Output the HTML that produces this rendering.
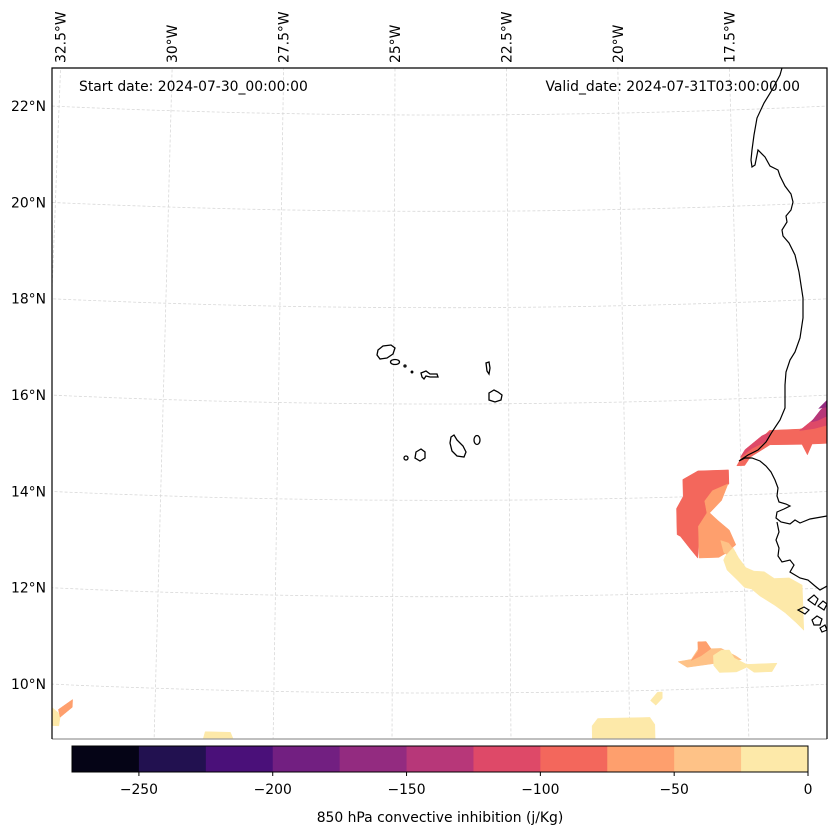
<!DOCTYPE html>
<html><head><meta charset="utf-8"><style>
html,body{margin:0;padding:0;background:#fff;}
svg{display:block;font-family:"DejaVu Sans","Liberation Sans",sans-serif;}
</style></head><body>
<svg id="fig" width="837" height="836" viewBox="0 0 837 836">
<defs><clipPath id="mapclip"><rect x="52" y="68" width="775" height="671"/></clipPath></defs>
<rect x="0" y="0" width="837" height="836" fill="#fff"/>
<g id="grid" clip-path="url(#mapclip)"></g>
<g id="fills" clip-path="url(#mapclip)"></g>
<g id="coast" clip-path="url(#mapclip)" fill="none" stroke="#000" stroke-width="1.2">
  <path d="M782,68 L780,75 772,90 764,103 757,118 754,135 752,150 751,160 752,167 755,165 758,150 765,157 770,166 778,170 780,176 785,186 791,194 793,202 791,210 786,216 787,222 782,230 783,236 789,243 795,255 799,272 803,298 803,318 800,338 795,352 790,360 786,372 785,385 785,408 780,420 772,432 766,442 758,450 748,455 739,461 745,458 752,458 760,461 766,466 771,472 775,480 778,488 777,496 779,502 786,504 790,506 784,509 777,512 776,518 781,522 790,524 795,520 800,523 810,519 827,516"/>
  <path d="M777,522 L779,532 776,540 779,548 778,556 782,562 790,560 794,565 790,572 800,578 808,580 815,586 820,590 827,586"/>
  <path d="M798,610 l6,-3 5,3 -4,4 z M808,600 l6,-5 4,4 -3,6 z M812,620 l5,-4 5,3 -2,6 -6,0 z M818,606 l5,-5 4,3 -3,6 z M820,628 l5,-3 2,5 -5,2z"/>
</g>
<g id="islands" fill="none" stroke="#000" stroke-width="1.3">
  <path d="M378,350 l5,-4 8,-1 4,3 -2,6 -6,4 -7,1 -3,-4 z"/>
  <ellipse cx="395" cy="362" rx="4.5" ry="2.5"/>
  <circle cx="405" cy="366" r="1"/>
  <circle cx="412" cy="372" r="0.8"/>
  <path d="M421,373 l5,-2 4,3 7,0 1,3 -8,0 -4,-1 -2,3 -2,-2 z"/>
  <path d="M486,363 l3,-1 1,6 -1,6 -2,-3 z"/>
  <path d="M489,393 l5,-3 4,2 4,3 -1,5 -6,2 -6,-2 z"/>
  <ellipse cx="477" cy="440" rx="3" ry="4.5"/>
  <path d="M451,437 l3,-2 3,5 6,6 3,6 -2,5 -7,-1 -5,-5 -2,-8 z"/>
  <path d="M416,452 l5,-3 4,3 0,6 -5,3 -5,-3 z"/>
  <circle cx="406" cy="458" r="2"/>
</g>
<line x1="52" y1="739" x2="827" y2="739" stroke="#999" stroke-width="1.2"/>
<path d="M52,739 L52,68 L827,68 L827,739" fill="none" stroke="#000" stroke-width="1.2"/>
<text x="79" y="91" font-size="13.9">Start date: 2024-07-30_00:00:00</text>
<text x="800" y="91" font-size="13.9" text-anchor="end">Valid_date: 2024-07-31T03:00:00.00</text>
<g id="latlabels" font-size="13.9" text-anchor="end"></g>
<g id="lonlabels" font-size="13.9"></g>
<g id="cbar"></g>
<text x="440" y="822" font-size="13.9" text-anchor="middle">850 hPa convective inhibition (j/Kg)</text>
</svg>
<script>
// ---- data ----
const levels = [-275,-250,-225,-200,-175,-150,-125,-100,-75,-50,-25,0];
const levelColors = ["#050416","#221150","#4a1079","#721f81","#932b80","#b73779","#de4968","#f3675c","#fe9f6d","#fec287","#fde9a9"];
const cbarTicks = [-250,-200,-150,-100,-50,0];
const cbarTickLabels = ["\u2212250","\u2212200","\u2212150","\u2212100","\u221250","0"];
const latTicks = [22,20,18,16,14,12,10];
const lonTicks = [-32.5,-30,-27.5,-25,-22.5,-20,-17.5];
// filled contour patches: band value (mid of bin) and lon/lat vertices
const patchValues = [-87.5,-112.5,-112.5,-137.5,-162.5,-87.5,-62.5,-37.5,-12.5,-37.5,-62.5,-12.5,-12.5,-12.5,-12.5,-62.5,-12.5];
const patchShapes = [
 [[-17.59,14.61],[-17.46,14.82],[-17.25,14.98],[-16.86,15.32],[-16.21,15.32],[-15.95,15.36],[-15.5,15.56],[-15.5,15.00],[-15.95,15.00],[-16.06,14.78],[-16.17,15.00],[-16.86,15.02],[-17.29,14.78],[-17.42,14.61]],
 [[-17.51,14.78],[-17.40,14.94],[-17.03,15.21],[-16.84,15.29],[-16.90,15.11],[-17.25,14.96]],
 [[-16.21,15.29],[-15.89,15.52],[-15.67,15.77],[-15.5,15.81],[-15.5,15.40],[-15.89,15.32]],
 [[-15.95,15.46],[-15.73,15.71],[-15.5,15.85],[-15.5,15.61],[-15.82,15.48]],
 [[-15.78,15.73],[-15.5,15.98],[-15.5,15.77]],
 [[-18.76,14.36],[-18.43,14.53],[-17.77,14.53],[-17.77,14.24],[-18.15,13.97],[-18.24,13.65],[-18.41,13.43],[-18.48,12.72],[-18.63,12.91],[-18.84,13.18],[-18.91,13.22],[-18.91,13.76],[-18.76,14.01]],
 [[-18.45,13.38],[-18.26,13.65],[-18.30,13.90],[-18.13,14.11],[-17.79,14.24],[-17.94,13.90],[-18.20,13.65],[-18.03,13.49],[-17.79,13.28],[-17.66,12.97],[-17.88,12.80],[-18.03,12.72],[-18.45,12.72]],
 [[-17.98,13.07],[-17.81,13.01],[-17.66,12.80],[-17.77,12.70],[-17.92,12.82]],
 [[-17.89,12.74],[-17.72,12.91],[-17.61,12.70],[-17.46,12.49],[-17.29,12.41],[-17.07,12.39],[-16.86,12.24],[-16.54,12.24],[-16.27,12.08],[-16.27,11.14],[-16.43,11.31],[-16.65,11.52],[-16.86,11.68],[-17.18,11.89],[-17.35,12.04],[-17.50,12.08],[-17.65,12.24],[-17.86,12.45],[-17.93,12.66]],
 [[-18.95,10.58],[-18.67,10.62],[-18.52,10.83],[-18.52,10.98],[-18.35,10.98],[-18.25,10.83],[-18.03,10.83],[-17.72,10.66],[-17.61,10.58],[-18.20,10.52],[-18.76,10.46]],
 [[-18.52,10.98],[-18.35,10.98],[-18.25,10.83],[-18.46,10.69],[-18.67,10.60],[-18.52,10.79]],
 [[-18.20,10.69],[-18.03,10.79],[-17.86,10.79],[-17.76,10.62],[-17.50,10.48],[-16.86,10.48],[-16.97,10.31],[-17.35,10.31],[-17.50,10.42],[-17.72,10.33],[-18.08,10.33],[-18.20,10.48]],
 [[-19.55,9.79],[-19.40,9.96],[-19.30,9.96],[-19.30,9.83],[-19.44,9.69]],
 [[-20.79,8.9],[-20.79,9.29],[-20.67,9.44],[-19.57,9.44],[-19.47,9.29],[-19.47,8.9]],
 [[-32.3,9.62],[-32.03,9.41],[-31.99,9.32],[-32.01,9.14],[-32.3,9.14]],
 [[-32.03,9.48],[-31.74,9.70],[-31.74,9.54],[-31.99,9.32]],
 [[-28.99,8.9],[-28.93,9.13],[-28.40,9.13],[-28.30,8.9]]
];
// ---- projection ----
function baseY(lat){ return 106 + (22 - lat) * 48.17; }
function projX(lon, lat){
  const t = (baseY(lat) - 68) / 671;
  const xt = 395 + (lon + 25) * 44.6, xb = 392 + (lon + 25) * 47.6;
  return xt + (xb - xt) * t;
}
function projY(lon, lat){
  const x = projX(lon, lat);
  const u = (x - 440) / 390;
  return baseY(lat) + 9 * (1 - u * u);
}
function colorFor(v){
  for (let i = 0; i < levels.length - 1; i++) if (v >= levels[i] && v < levels[i+1]) return levelColors[i];
  return levelColors[levelColors.length - 1];
}
const NS = "http://www.w3.org/2000/svg";
function mk(tag, attrs, parent){
  const e = document.createElementNS(NS, tag);
  for (const k in attrs) e.setAttribute(k, attrs[k]);
  parent.appendChild(e); return e;
}
// gridlines
const grid = document.getElementById('grid');
for (let lat = 8; lat <= 24; lat += 2){
  let pts = [];
  for (let lon = -34; lon <= -14; lon += 0.5) pts.push(projX(lon,lat).toFixed(1)+","+projY(lon,lat).toFixed(1));
  const p = mk('polyline', {points: pts.join(' '), fill:'none', stroke:'#d8d8d8', 'stroke-width':'0.8', 'stroke-dasharray':'3,2'}, grid);
  
  
}
for (let lon = -35; lon <= -15; lon += 2.5){
  let pts = [];
  for (let lat = 24; lat >= 8; lat -= 0.5) pts.push(projX(lon,lat).toFixed(1)+","+projY(lon,lat).toFixed(1));
  const p = mk('polyline', {points: pts.join(' '), fill:'none', stroke:'#d8d8d8', 'stroke-width':'0.8', 'stroke-dasharray':'3,2'}, grid);
  
  
}
// filled patches
const fills = document.getElementById('fills');
patchShapes.forEach((shape, i) => {
  const pts = shape.map(p => projX(p[0],p[1]).toFixed(1)+","+projY(p[0],p[1]).toFixed(1)).join(' ');
  const c = colorFor(patchValues[i]);
  const e = mk('polygon', {points: pts, fill: c, stroke: c, 'stroke-width':'0.5'}, fills);
  
  
});
// lat labels
const latG = document.getElementById('latlabels');
latTicks.forEach(lat => {
  const t = mk('text', {x: 46, y: (baseY(lat) + 5).toFixed(1)}, latG);
  t.textContent = lat + "\u00b0N";
  
  
});
// lon labels (at top edge, rotated)
const lonG = document.getElementById('lonlabels');
lonTicks.forEach(lon => {
  const x = 395 + (lon + 25) * 44.6 + 5;
  const t = mk('text', {x: 0, y: 0, transform: `translate(${x.toFixed(1)},63) rotate(-90)`}, lonG);
  t.textContent = Math.abs(lon) + "\u00b0W";
  
  
});
// colorbar
const cb = document.getElementById('cbar');
const cbX0 = 72, cbX1 = 808, cbY = 746, cbH = 26;
function cbScale(v){ return cbX0 + (v - levels[0]) / (levels[levels.length-1] - levels[0]) * (cbX1 - cbX0); }
for (let i = 0; i < levelColors.length; i++){
  const x0 = cbScale(levels[i]), x1 = cbScale(levels[i+1]);
  const r = mk('rect', {x: x0.toFixed(2), y: cbY, width: (x1 - x0 + 0.5).toFixed(2), height: cbH, fill: levelColors[i]}, cb);
  
  
}
const fr = mk('rect', {x: cbX0, y: cbY, width: cbX1 - cbX0, height: cbH, fill: 'none', stroke: '#000', 'stroke-width': '1'}, cb);


cbarTicks.forEach((v, i) => {
  const x = cbScale(v);
  const l = mk('line', {x1: x, x2: x, y1: cbY + cbH, y2: cbY + cbH + 4, stroke: '#000'}, cb);
  
  
  const t = mk('text', {x: x, y: 794, 'font-size': 13.9, 'text-anchor': 'middle'}, cb);
  t.textContent = cbarTickLabels[i];
  
  
});
</script>
</body></html>
